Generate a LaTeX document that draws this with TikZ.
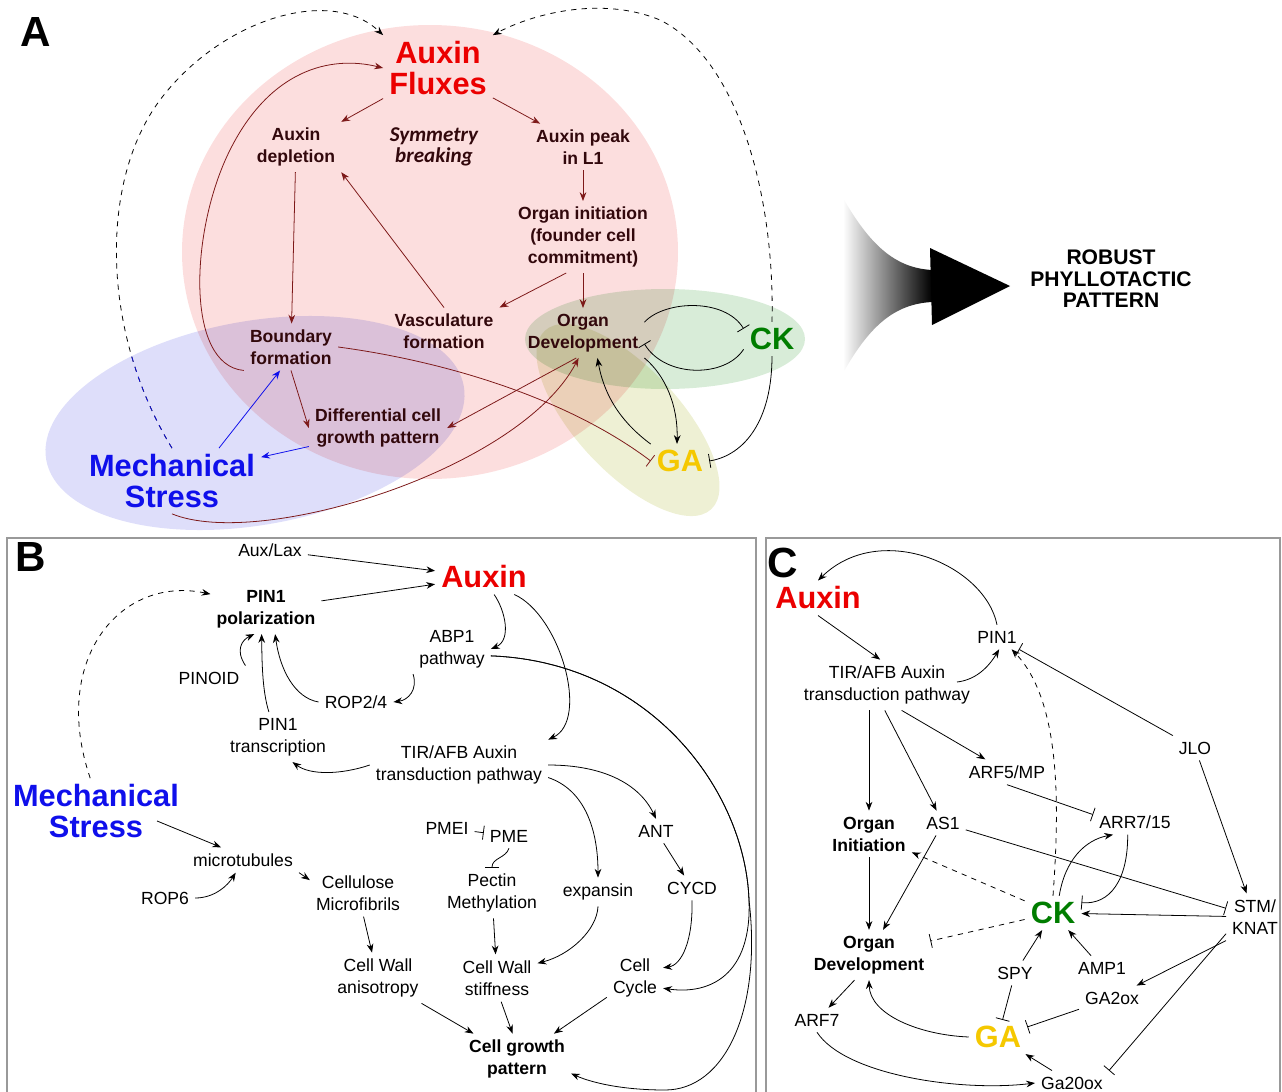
\documentclass[tikz,border=0pt]{standalone}
\usepackage{fontspec}
\setmainfont{Liberation Sans}
\newfontfamily\symfont{Carlito}
\usetikzlibrary{arrows.meta,positioning}

\definecolor{zone_auxin}{RGB}{252,222,222}
\definecolor{zone_mech}{RGB}{222,222,250}
\definecolor{zone_ck}{RGB}{216,236,216}
\definecolor{zone_ga}{RGB}{238,240,212}
\definecolor{text_a}{RGB}{50,8,12}
\definecolor{edge_a}{RGB}{125,25,25}
\definecolor{auxin_red}{RGB}{235,0,0}
\definecolor{mech_blue}{RGB}{15,15,235}
\definecolor{ck_green}{RGB}{0,125,0}
\definecolor{ga_gold}{RGB}{245,200,0}

\begin{document}
\begin{tikzpicture}[x=0.02cm, y=-0.02cm,
    >={Stealth[length=5pt,width=3.8pt]},
    act/.style={->, line width=0.45pt},
    inh/.style={-{Bar[width=8pt]}, line width=0.45pt},
    lbl/.style={font=\fontsize{10}{12.5}\selectfont, align=center},
    lblbf/.style={font=\bfseries\fontsize{10}{12.5}\selectfont, align=center},
    lbla/.style={font=\bfseries\fontsize{10}{12.3}\selectfont, align=center, text=text_a},
    big/.style={font=\bfseries\fontsize{17.5}{17.5}\selectfont, align=center},
    panel/.style={font=\bfseries\fontsize{24}{24}\selectfont}]
  \useasboundingbox (0,0) rectangle (1282,1092);

  % panel A: zones
  \begin{scope}[blend mode=multiply]
    \fill[zone_auxin] (430,252) ellipse [x radius=248, y radius=227];
    \fill[zone_mech, rotate around={10:(255,423)}] (255,423) ellipse [x radius=212, y radius=102];
    \fill[zone_ck] (665,339) ellipse [x radius=140, y radius=50];
    \fill[zone_ga, rotate around={-47:(628,420)}] (628,420) ellipse [x radius=122, y radius=52];
  \end{scope}

  \node[panel] (a_lab) at (36,32) {A};
  \node[big, text=auxin_red] (a_flux) at (438,68) {Auxin\\Fluxes};
  \node[lbla] (a_depl) at (296,147) {Auxin\\depletion};
  \node[align=center, text=text_a, font=\symfont\bfseries\itshape\fontsize{12}{12}\selectfont]
    (a_symm) at (434,147) {Symmetry\\breaking};
  \node[lbla] (a_peak) at (583,147) {Auxin peak\\in L1};
  \node[lbla] (a_init) at (583,237) {Organ initiation\\(founder cell\\commitment)};
  \node[lbla] (a_vasc) at (444,331) {Vasculature\\formation};
  \node[lbla] (a_odev) at (583,333) {Organ\\Development};
  \node[lbla] (a_bound) at (291,347) {Boundary\\formation};
  \node[lbla] (a_dgrow) at (378,428) {Differential cell\\growth pattern};
  \node[big, text=mech_blue] (a_stress) at (172,481) {Mechanical\\Stress};
  \node[big, text=ck_green] (a_ck) at (772,339) {CK};
  \node[big, text=ga_gold] (a_ga) at (680,461) {GA};
  \node[font=\bfseries\fontsize{12}{12.2}\selectfont, align=center]
    (a_robust) at (1111,279) {ROBUST\\PHYLLOTACTIC\\PATTERN};

  \draw[act, edge_a] (a_flux) -- (a_depl);
  \draw[act, edge_a] (a_flux) -- (a_peak);
  \draw[act, edge_a] (a_peak) -- (a_init);
  \draw[act, edge_a] (a_init) -- (a_odev);
  \draw[act, edge_a] (a_init.-115) -- (a_vasc.north east);
  \draw[act, edge_a] (a_vasc.north) -- (a_depl.south east);
  \draw[act, edge_a] (a_depl) -- (a_bound);
  \draw[act, edge_a] (a_bound.south west) .. controls (185,365) and (190,230) .. (230,150)
    .. controls (270,70) and (330,55) .. (a_flux.west);
  \draw[act, edge_a] (a_bound.south) -- (a_dgrow.west);
  \draw[act, mech_blue] (a_stress.35) -- (a_bound.-115);
  \draw[act, mech_blue] (a_dgrow.195) -- (a_stress.15);
  \draw[act, edge_a] (a_odev.-105) -- (a_dgrow.east);
  \draw[act, edge_a] (a_stress.south) .. controls (260,550) and (520,470) .. (a_odev.-100);
  \draw[inh, edge_a] (a_bound.east) .. controls (450,362) and (570,400) .. (a_ga.west);
  \draw[inh] (a_odev.10) .. controls (665,300) and (725,298) .. (a_ck.160);
  \draw[inh] (a_ck.200) .. controls (725,378) and (665,378) .. (a_odev.-10);
  \draw[act] (a_odev.south east) .. controls (665,375) and (678,405) .. (a_ga.100);
  \draw[act] (a_ga.150) .. controls (625,425) and (605,400) .. (a_odev.-60);
  \draw[inh] (a_ck.south) .. controls (772,420) and (745,455) .. (a_ga.east);
  \draw[act, dashed] (a_ck.north) .. controls (775,200) and (740,60) .. (660,20)
    .. controls (600,-5) and (530,15) .. (a_flux.north east);
  \draw[act, dashed] (a_stress.north) .. controls (100,330) and (100,180) .. (160,100)
    .. controls (220,20) and (330,-15) .. (a_flux.north west);
  \begin{scope}
    \clip[rotate around={10:(255,423)}] (255,423) ellipse [x radius=212, y radius=102];
    \draw[dashed, mech_blue] (a_stress.north) .. controls (100,330) and (100,180) .. (160,100);
  \end{scope}

  % big arrow to the result
  \shade[left color=white, right color=black] (843,198) .. controls (870,245) and (895,268) .. (932,270)
    -- (932,302) .. controls (895,304) and (870,325) .. (843,373) -- cycle;
  \fill (930,248) -- (1010,286) -- (932,325) -- cycle;

  % panel B
  \draw[black!40, line width=0.8pt] (7,1092) -- (7,538) -- (756,538) -- (756,1092);
  \node[panel] (b_lab) at (31,557) {B};
  \node[big, text=auxin_red] (b_auxin) at (484,577) {Auxin};
  \node[lbl] (b_auxlax) at (270,550) {Aux/Lax};
  \node[lblbf] (b_pinpol) at (266,609) {PIN1\\polarization};
  \node[lbl] (b_abp1) at (452,649) {ABP1\\pathway};
  \node[lbl] (b_pinoid) at (209,678) {PINOID};
  \node[lbl] (b_rop24) at (356,702) {ROP2/4};
  \node[lbl] (b_pintr) at (278,737) {PIN1\\transcription};
  \node[lbl] (b_tir) at (459,765) {TIR/AFB Auxin\\transduction pathway};
  \node[big, text=mech_blue] (b_stress) at (96,811) {Mechanical\\Stress};
  \node[lbl] (b_pmei) at (447,828) {PMEI};
  \node[lbl] (b_pme) at (509,836) {PME};
  \node[lbl] (b_ant) at (656,831) {ANT};
  \node[lbl] (b_micro) at (243,860) {microtubules};
  \node[lbl] (b_rop6) at (165,898) {ROP6};
  \node[lbl] (b_cellu) at (358,893) {Cellulose\\Microfibrils};
  \node[lbl] (b_pectin) at (492,893) {Pectin\\Methylation};
  \node[lbl] (b_expan) at (598,892) {expansin};
  \node[lbl] (b_cycd) at (692,888) {CYCD};
  \node[lbl] (b_cwaniso) at (378,978) {Cell Wall\\anisotropy};
  \node[lbl] (b_cwstiff) at (497,978) {Cell Wall\\stiffness};
  \node[lbl] (b_cycle) at (635,978) {Cell\\Cycle};
  \node[lblbf] (b_growth) at (517,1059) {Cell growth\\pattern};
  \coordinate (b_fork) at (749,900);

  \draw[act] (b_auxlax) -- (b_auxin);
  \draw[act] (b_pinpol) -- (b_auxin);
  \draw[act, dashed] (b_stress.100) .. controls (50,660) and (120,575) .. (b_pinpol.165);
  \draw[act] (b_pinoid.north east) .. controls (235,650) and (242,640) .. (b_pinpol.-115);
  \draw[act] (b_pintr.110) .. controls (262,690) and (262,660) .. (b_pinpol.-100);
  \draw[act] (b_rop24.west) .. controls (295,698) and (280,670) .. (b_pinpol.-70);
  \draw[act] (b_abp1.south west) .. controls (418,690) and (408,700) .. (b_rop24.east);
  \draw[act] (b_auxin.-60) .. controls (505,610) and (512,640) .. (b_abp1.east);
  \draw[act] (b_auxin.-30) .. controls (560,615) and (590,720) .. (b_tir.north east);
  \draw[act] (b_tir.west) .. controls (340,775) and (310,775) .. (b_pintr.-60);
  \draw[act] (b_abp1.-10) .. controls (650,662) and (745,790) .. (b_fork)
    .. controls (752,975) and (710,995) .. (b_cycle.-20);
  \draw[act] (b_abp1.-10) .. controls (650,662) and (745,790) .. (b_fork)
    .. controls (762,1010) and (725,1090) .. (665,1090) .. controls (620,1090) and (590,1082) .. (b_growth.-15);
  \draw[act] (b_tir.east) .. controls (605,765) and (640,785) .. (b_ant.north);
  \draw[act] (b_tir.-8) .. controls (585,790) and (598,830) .. (b_expan.north);
  \draw[act] (b_ant) -- (b_cycd);
  \draw[act] (b_cycd.south) .. controls (693,940) and (682,965) .. (b_cycle.20);
  \draw[act] (b_cycle) -- (b_growth);
  \draw[act] (b_expan.south) .. controls (597,930) and (570,955) .. (b_cwstiff.20);
  \draw[act] (b_pectin) -- (b_cwstiff);
  \draw[act] (b_cwstiff.-80) -- (b_growth.100);
  \draw[act] (b_cwaniso) -- (b_growth);
  \draw[act] (b_cellu) -- (b_cwaniso);
  \draw[act] (b_micro.south east) -- (b_cellu.165);
  \draw[act] ([shift={(-28,10)}]b_stress.east) -- (b_micro.150);
  \draw[act] (b_rop6.east) .. controls (215,898) and (228,885) .. (b_micro.-120);
  \draw[inh] (b_pme.south) .. controls (506,858) and (492,858) .. (b_pectin.north);
  \draw[inh] (b_pmei) -- (b_pme);

  % panel C
  \draw[black!40, line width=0.8pt] (766,1092) -- (766,538) -- (1280,538) -- (1280,1092);
  \node[panel] (c_lab) at (783,563) {C};
  \node[big, text=auxin_red] (c_auxin) at (818,598) {Auxin};
  \node[lbl] (c_pin1) at (997,637) {PIN1};
  \node[lbl] (c_tir) at (887,685) {TIR/AFB Auxin\\transduction pathway};
  \node[lbl] (c_jlo) at (1195,748) {JLO};
  \node[lbl] (c_arf5) at (1007,772) {ARF5/MP};
  \node[lblbf] (c_oinit) at (869,834) {Organ\\Initiation};
  \node[lbl] (c_as1) at (943,823) {AS1};
  \node[lbl] (c_arr) at (1135,822) {ARR7/15};
  \node[lbl] (c_stm) at (1255,917) {STM/\\KNAT};
  \node[big, text=ck_green] (c_ck) at (1053,913) {CK};
  \node[lblbf] (c_odev) at (869,955) {Organ\\Development};
  \node[lbl] (c_spy) at (1015,973) {SPY};
  \node[lbl] (c_amp1) at (1102,968) {AMP1};
  \node[lbl] (c_ga2ox) at (1112,998) {GA2ox};
  \node[lbl] (c_arf7) at (817,1020) {ARF7};
  \node[big, text=ga_gold] (c_ga) at (998,1037) {GA};
  \node[lbl] (c_ga20ox) at (1072,1083) {Ga20ox};

  \draw[act] (c_pin1.north) .. controls (985,565) and (880,520) .. (c_auxin.north);
  \draw[act] (c_auxin.south) -- (c_tir.105);
  \draw[act] ([shift={(70,-3)}]c_tir.center) .. controls (975,680) and (988,668) .. (c_pin1.-80);
  \draw[inh] (c_jlo) -- (c_pin1);
  \draw[act] (c_jlo) -- (c_stm);
  \draw[act] (c_tir.south -| c_oinit) -- (c_oinit);
  \draw[act] (c_tir.-95) -- (c_as1);
  \draw[act] (c_tir.-60) -- (c_arf5);
  \draw[inh] (c_arf5.south) -- (c_arr.170);
  \draw[inh] (c_as1) -- (c_stm);
  \draw[act, dashed] (c_ck.north) .. controls (1060,800) and (1060,700) .. (c_pin1.-40);
  \draw[act, dashed] (c_ck) -- (c_oinit);
  \draw[inh, dashed] (c_ck) -- (c_odev);
  \draw[act] (c_ck.70) .. controls (1065,860) and (1085,840) .. (c_arr.-150);
  \draw[inh] (c_arr.-120) .. controls (1128,880) and (1110,905) .. (c_ck.20);
  \draw[act] (c_stm) -- (c_ck);
  \draw[act] (c_amp1) -- (c_ck);
  \draw[act] (c_spy) -- (c_ck);
  \draw[inh] (c_spy) -- (c_ga);
  \draw[act] (c_stm.south west) -- (c_ga2ox);
  \draw[inh] (c_ga2ox) -- (c_ga);
  \draw[inh] (c_stm.-150) -- (c_ga20ox.north east);
  \draw[act] (c_ga20ox) -- (c_ga);
  \draw[act] (c_ga.west) .. controls (920,1035) and (870,1015) .. (c_odev.south);
  \draw[act] (c_odev.-120) -- (c_arf7);
  \draw[act] (c_arf7.south) .. controls (845,1075) and (960,1092) .. (c_ga20ox.west);
  \draw[act] (c_as1) -- (c_odev);
  \draw[act] (c_oinit) -- (c_odev);
\end{tikzpicture}
\end{document}
